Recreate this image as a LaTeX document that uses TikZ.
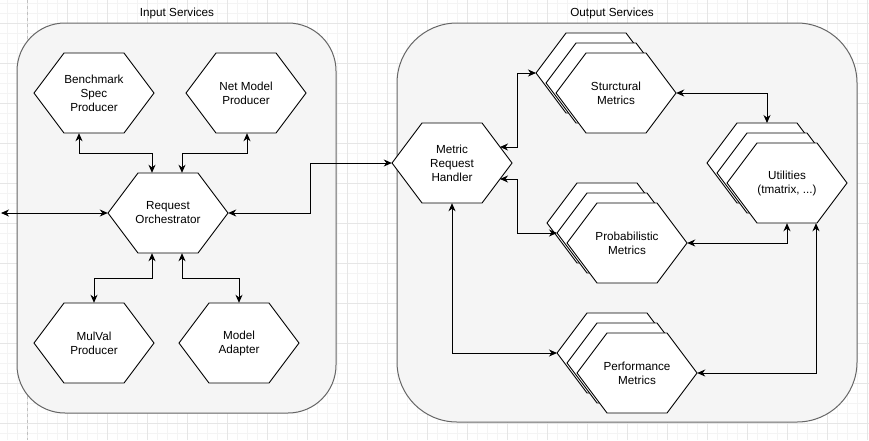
\documentclass[tikz,border=0pt]{standalone}
\usepackage{fontspec}
\setmainfont{Liberation Sans}
\usetikzlibrary{arrows.meta,calc}
\definecolor{contfill}{HTML}{F5F5F5}
\definecolor{contline}{HTML}{666666}
\definecolor{gridminor}{HTML}{F4F4F4}
\definecolor{gridmajor}{HTML}{E6E6E6}
\definecolor{pageline}{HTML}{C0C0C0}
\tikzset{
  cont/.style={fill=contfill, draw=contline, line width=1pt},
  hexbox/.style={minimum width=120pt, minimum height=80pt, inner sep=0pt, align=center, font=\fontsize{11.7}{14}\selectfont},
  hexshape/.style={fill=white, draw=black, line width=0.9pt, line join=miter},
  title/.style={font=\fontsize{11.7}{14}\selectfont},
  conn/.style={draw=black, line width=1pt, {Stealth[length=8pt,width=7pt,inset=2.5pt]}-{Stealth[length=8pt,width=7pt,inset=2.5pt]}},
  minorgrid/.style={draw=gridminor, line width=0.8pt},
  majorgrid/.style={draw=gridmajor, line width=0.9pt},
}
\newcommand\hexonly[2]{%
  \path[hexshape] ({#1-60},{#2}) -- ({#1-30},{#2-40}) -- ({#1+30},{#2-40}) -- ({#1+60},{#2}) -- ({#1+30},{#2+40}) -- ({#1-30},{#2+40}) -- cycle;}
\newcommand\hexat[4]{%
  \hexonly{#1}{#2}%
  \node[hexbox] (#3) at (#1,#2) {#4};}
\newcommand\hexstack[4]{%
  \hexonly{#1-20}{#2-20}%
  \hexonly{#1-10}{#2-10}%
  \hexat{#1}{#2}{#3}{#4}}
\begin{document}
\begin{tikzpicture}[x=1pt,y=-1pt]
\useasboundingbox (0,0) rectangle (869,440);
\fill[white] (0,0) rectangle (869,440);
% grid
\foreach \x in {7,17,...,867} \draw[minorgrid] (\x,0) -- (\x,440);
\foreach \y in {3,13,...,433} \draw[minorgrid] (0,\y) -- (869,\y);
\foreach \x in {27,67,...,867} \draw[majorgrid] (\x,0) -- (\x,440);
\foreach \y in {23,63,...,423} \draw[majorgrid] (0,\y) -- (869,\y);
\draw[pageline, dash pattern=on 3pt off 3pt, line width=0.9pt] (27,0) -- (27,440);
% containers
\draw[cont, rounded corners=48pt] (17,23) rectangle (336,413);
\draw[cont, rounded corners=60pt] (397,23) rectangle (857,422);
\node[title] (tin) at (177,13) {Input Services};
\node[title] (tout) at (612,13) {Output Services};
% input hexagons
\hexat{94}{93}{bsp}{Benchmark\\Spec\\Producer}
\hexat{246}{93}{nmp}{Net Model\\Producer}
\hexat{168}{213}{orc}{Request\\Orchestrator}
\hexat{94}{343}{mvp}{MulVal\\Producer}
\hexat{239}{343}{mad}{Model\\Adapter}
% output hexagons
\hexat{452}{163}{mrh}{Metric\\Request\\Handler}
\hexstack{616}{93}{sm}{Sturctural\\Metrics}
\hexstack{627}{243}{pm}{Probabilistic\\Metrics}
\hexstack{637}{373}{pf}{Performance\\Metrics}
\hexstack{787}{183}{ut}{Utilities\\(tmatrix, ...)}
% helper coordinates on stacked shapes
\coordinate (smback) at (536,73);
\coordinate (pmmid) at (557,233);
\coordinate (pfback) at (557,353);
\coordinate (utback) at (767,123);
\coordinate (lft) at (1,213);
% input connectors
\draw[conn] ([xshift=-15pt]bsp.south) -- ++(0,20) -| ([xshift=-16pt]orc.north);
\draw[conn] ([xshift=1pt]nmp.south) -- ++(0,20) -| ([xshift=14pt]orc.north);
\draw[conn] ([xshift=-16pt]orc.south) -- ++(0,25) -| (mvp.north);
\draw[conn] ([xshift=14pt]orc.south) -- ++(0,25) -| (mad.north);
\draw[conn] (lft) -- (orc.west);
\draw[conn] (orc.east) -- ++(82,0) |- (mrh.west);
% output connectors
\draw[conn] ([xshift=48pt,yshift=16pt]mrh.center) -- ++(17,0) |- (smback);
\draw[conn] ([xshift=48pt,yshift=-16pt]mrh.center) -- ++(17,0) |- (pmmid);
\draw[conn] (mrh.south) |- (pfback);
\draw[conn] (sm.east) -| (utback);
\draw[conn] (pm.east) -| (ut.south);
\draw[conn] (pf.east) -| ([xshift=29pt]ut.south);
\end{tikzpicture}
\end{document}
